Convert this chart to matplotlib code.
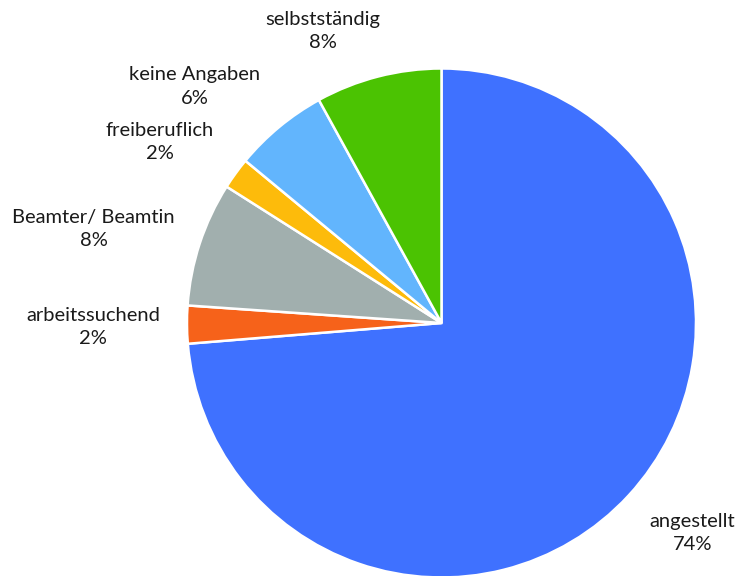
import numpy as np
import matplotlib
matplotlib.use("Agg")
import matplotlib.pyplot as plt

categories = ["angestellt", "arbeitssuchend", "Beamter/ Beamtin", "freiberuflich",
              "keine Angaben", "selbstständig"]
values = [73.7, 2.4, 7.9, 2.0, 6.0, 8.0]
colors = ["#3F71FF", "#F6621A", "#A1AFAE", "#FDBB0B", "#62B5FD", "#4BC302"]

# label placement (style): radial distance and angle offset in degrees
label_r = [1.285, 1.368, 1.416, 1.316, 1.342, 1.237]
label_dtheta = [2.7, 0.3, 3.1, 3.3, 6.6, 7.7]

plt.rcParams['font.family'] = ['Lato', 'DejaVu Sans']

fig = plt.figure(figsize=(7.4, 5.76), dpi=100)
ax = fig.add_axes([0, 0, 1, 1])
R = 254.5
cx, cy = 441.5, 576 - 323.0

wedges, _ = ax.pie(values, colors=colors, startangle=90, counterclock=False,
                   radius=1.0, center=(0, 0), frame=True,
                   wedgeprops=dict(edgecolor='white', linewidth=1.8))
ax.set_aspect('auto')
ax.set_xlim(-cx / R, (740 - cx) / R)
ax.set_ylim(-cy / R, (576 - cy) / R)
ax.axis('off')

total = sum(values)
for w, cat, v, r, dt in zip(wedges, categories, values, label_r, label_dtheta):
    mid = np.deg2rad((w.theta1 + w.theta2) / 2 + dt)
    ax.text(r * np.cos(mid), r * np.sin(mid), f"{cat}\n{round(v / total * 100):.0f}%",
            ha='center', va='center', fontsize=14.5, color='#1a1a1a', linespacing=1.45)

fig.savefig("out.png", dpi=100)
